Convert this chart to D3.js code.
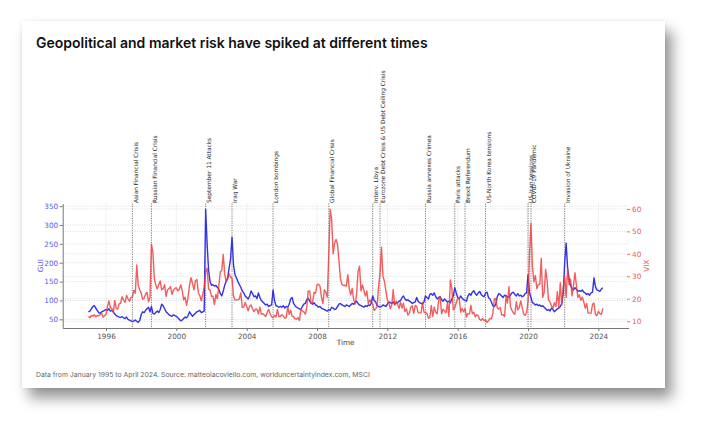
<!DOCTYPE html>
<html lang="en">
<head>
<meta charset="UTF-8">
<title>Geopolitical and market risk have spiked at different times</title>
<style>
  body { margin: 0; background: #fff; width: 708px; height: 432px; overflow: hidden; }
  #card {
    position: absolute; left: 22px; top: 21px; width: 643px; height: 367px;
    background: #fff;
    box-shadow: 7px 10px 13px rgba(0, 0, 0, 0.42), 0 0 4px rgba(0, 0, 0, 0.08);
  }
  svg { position: absolute; left: 0; top: 0; }
  .chart text { font-family: "DejaVu Sans", sans-serif; }
</style>
</head>
<body>
<div id="card"></div>
<svg id="chart" class="chart" width="708" height="432"></svg>

<script src="https://cdnjs.cloudflare.com/ajax/libs/d3/7.8.5/d3.min.js"></script>
<script>
// monthly series, January 1995 .. April 2024
const startYear = 1995;

const guiValues = [
  70, 72, 78, 84, 86, 80, 74, 68, 66, 70, 72, 74,        // 1995
  76, 74, 78, 72, 74, 70, 64, 60, 58, 56, 55, 57,        // 1996
  54, 52, 56, 50, 48, 46, 44, 46, 48, 45, 42, 47,        // 1997
  62, 70, 68, 74, 78, 82, 70, 84, 66, 64, 68, 72,        // 1998
  68, 76, 90, 86, 78, 70, 66, 62, 60, 58, 62, 60,        // 1999
  58, 54, 50, 46, 48, 52, 56, 54, 60, 70, 64, 58,        // 2000
  62, 66, 70, 72, 74, 68, 70, 72, 342, 250, 180, 150,    // 2001
  140, 142, 138, 140, 135, 130, 118, 112, 125, 140, 150, 160, // 2002
  185, 210, 268, 195, 168, 160, 150, 142, 135, 125, 120, 112, // 2003
  108, 104, 112, 125, 118, 110, 112, 105, 120, 108, 100, 96,  // 2004
  92, 88, 90, 84, 86, 88, 128, 100, 86, 84, 82, 84,      // 2005
  82, 86, 80, 84, 82, 90, 104, 108, 92, 86, 82, 80,      // 2006
  78, 76, 84, 90, 92, 102, 106, 98, 92, 90, 94, 88,      // 2007
  86, 82, 84, 80, 78, 76, 74, 72, 76, 74, 82, 80,        // 2008
  76, 78, 84, 90, 92, 88, 86, 84, 88, 86, 84, 88,        // 2009
  92, 90, 94, 98, 92, 88, 86, 84, 82, 86, 84, 88,        // 2010
  86, 92, 112, 100, 96, 86, 84, 82, 84, 88, 86, 84,      // 2011
  90, 96, 94, 92, 96, 90, 92, 94, 98, 100, 108, 112,     // 2012
  104, 100, 102, 98, 96, 92, 94, 96, 108, 98, 94, 92,    // 2013
  90, 96, 112, 108, 104, 116, 118, 114, 120, 110, 104, 108, // 2014
  110, 102, 98, 104, 100, 96, 98, 94, 104, 112, 134, 120,   // 2015
  108, 104, 112, 106, 102, 100, 98, 112, 118, 114, 122, 126, // 2016
  118, 114, 120, 124, 116, 112, 110, 120, 122, 108, 104, 96, // 2017
  86, 84, 90, 110, 118, 116, 112, 108, 114, 112, 110, 108,  // 2018
  114, 120, 122, 116, 112, 118, 112, 114, 110, 112, 118, 120, // 2019
  168, 120, 108, 94, 92, 88, 90, 86, 88, 84, 86, 82,     // 2020
  78, 74, 76, 72, 80, 76, 70, 74, 78, 80, 84, 92,        // 2021
  118, 200, 252, 186, 158, 140, 132, 128, 134, 130, 124, 126, // 2022
  124, 128, 122, 120, 116, 118, 114, 120, 122, 160, 136, 128, // 2023
  126, 124, 130, 134                                     // 2024
];

const vixValues = [
  12.1, 11.5, 12.6, 12.2, 12.9, 11.9, 12.6, 12.4, 12.9, 13.6, 11.8, 12.5, // 1995
  13.0, 16.6, 19.0, 16.0, 15.7, 13.9, 19.3, 15.6, 15.4, 17.8, 18.0, 20.9, // 1996
  19.5, 18.4, 21.5, 20.0, 18.9, 20.5, 20.9, 23.7, 22.5, 35.1, 25.9, 24.0, // 1997
  22.5, 19.8, 20.3, 22.0, 22.9, 18.7, 20.6, 44.3, 40.7, 28.9, 26.0, 24.4, // 1998
  26.2, 27.9, 24.0, 24.5, 26.3, 21.0, 24.0, 24.5, 25.4, 21.9, 23.8, 24.6, // 1999
  24.9, 23.5, 24.1, 26.2, 23.7, 19.5, 20.7, 17.0, 20.6, 26.1, 29.4, 26.9, // 2000
  24.0, 28.0, 28.6, 22.7, 21.4, 19.1, 22.0, 24.9, 31.9, 33.6, 24.4, 23.8, // 2001
  21.1, 21.1, 17.4, 21.9, 20.0, 25.8, 32.0, 32.6, 39.7, 31.1, 27.5, 28.6, // 2002
  31.2, 29.6, 29.2, 21.2, 19.5, 19.5, 19.5, 19.9, 22.7, 16.1, 16.3, 18.3, // 2003
  16.6, 14.6, 16.7, 17.2, 15.5, 14.3, 15.3, 15.3, 13.3, 16.3, 13.2, 13.3, // 2004
  12.8, 12.1, 14.0, 15.3, 13.3, 12.0, 11.6, 12.6, 11.9, 15.3, 12.1, 12.1, // 2005
  12.9, 12.3, 11.4, 11.6, 16.4, 13.1, 14.9, 12.3, 12.0, 11.1, 10.9, 11.6, // 2006
  10.4, 15.4, 14.6, 14.2, 13.1, 16.2, 23.5, 23.4, 18.0, 18.5, 22.9, 22.5, // 2007
  26.2, 26.5, 25.6, 20.8, 17.8, 24.0, 22.9, 20.7, 39.4, 59.9, 55.3, 40.0, // 2008
  44.8, 46.4, 44.1, 36.5, 28.9, 26.4, 25.9, 26.0, 25.6, 30.7, 24.5, 21.7, // 2009
  24.6, 19.5, 17.6, 22.1, 32.1, 34.5, 23.5, 26.1, 23.7, 21.2, 23.5, 17.8, // 2010
  19.5, 18.4, 17.7, 14.8, 15.5, 16.5, 25.3, 31.6, 43.0, 30.0, 27.8, 23.4, // 2011
  19.4, 18.4, 15.5, 17.2, 24.1, 17.1, 18.9, 17.5, 15.7, 18.6, 15.9, 18.0, // 2012
  14.3, 15.5, 12.7, 13.5, 16.3, 16.9, 13.5, 17.0, 16.6, 13.8, 13.7, 13.7, // 2013
  18.4, 14.0, 13.9, 13.4, 11.4, 11.6, 17.0, 12.1, 16.3, 14.0, 13.3, 19.2, // 2014
  21.0, 13.3, 15.3, 14.6, 13.8, 18.2, 12.1, 28.4, 24.5, 15.1, 16.1, 18.2, // 2015
  20.2, 20.6, 14.0, 15.7, 14.2, 15.6, 11.9, 13.4, 13.3, 17.1, 13.3, 14.0, // 2016
  12.0, 12.9, 12.4, 10.8, 10.4, 11.2, 10.3, 10.6, 9.5, 10.2, 11.3, 11.0,  // 2017
  13.5, 19.9, 20.0, 15.9, 15.4, 16.1, 12.8, 12.9, 12.1, 21.2, 18.1, 25.4, // 2018
  16.6, 14.8, 13.7, 13.1, 18.7, 15.1, 16.1, 19.0, 16.2, 13.2, 12.6, 13.8, // 2019
  18.8, 40.1, 53.5, 34.2, 27.5, 30.4, 24.5, 26.4, 26.4, 38.0, 20.6, 22.8, // 2020
  33.1, 28.0, 19.4, 18.6, 16.8, 15.8, 18.2, 16.5, 23.1, 16.3, 27.2, 17.2, // 2021
  24.8, 30.2, 20.6, 33.4, 26.2, 28.7, 21.3, 25.9, 31.6, 25.9, 20.6, 21.7, // 2022
  19.4, 20.7, 18.7, 15.8, 17.9, 13.6, 13.6, 13.6, 17.5, 18.1, 12.9, 12.5, // 2023
  14.4, 13.4, 13.0, 15.7                                                  // 2024
];

const eventLabels = [
  "Asian Financial Crisis", "Russian Financial Crisis", "September 11 Attacks",
  "Iraq War", "London bombings", "Global Financial Crisis", "Interv. Libya",
  "Eurozone Debt Crisis & US Debt Ceiling Crisis", "Russia annexes Crimea",
  "Paris attacks", "Brexit Referendum", "US-North Korea tensions",
  "US-Iran tensions", "COVID-19 Pandemic", "Invasion of Ukraine"
];
const eventDates = [
  "1997-07", "1998-08", "2001-09", "2003-03", "2005-07", "2008-09", "2011-03",
  "2011-08", "2014-03", "2015-11", "2016-06", "2017-08", "2020-01", "2020-03", "2022-02"
];

const yearTicks = [1996, 2000, 2004, 2008, 2012, 2016, 2020, 2024];
const guiTicks = [50, 100, 150, 200, 250, 300, 350];
const vixTicks = [10, 20, 30, 40, 50, 60];

const titleText = "Geopolitical and market risk have spiked at different times";
const footerText = "Data from January 1995 to April 2024. Source: matteoiacoviello.com, worlduncertaintyindex.com, MSCI";

// ---- layout
const plot = { left: 62.7, right: 628.5, top: 203.5, bottom: 328 };
const blue = "#3333e4", red = "#ef3b3b";

const months = guiValues.map((d, i) => startYear + i / 12);
const toYear = s => +s.slice(0, 4) + (+s.slice(5, 7) - 1) / 12;

// matplotlib-like 5% margins around the data
function padded(ext) {
  const p = (ext[1] - ext[0]) * 0.05;
  return [ext[0] - p, ext[1] + p];
}

const x = d3.scaleLinear().domain(padded(d3.extent(months))).range([plot.left, plot.right]);
const yGui = d3.scaleLinear().domain(padded(d3.extent(guiValues))).range([plot.bottom, plot.top]);
const yVix = d3.scaleLinear().domain(padded(d3.extent(vixValues))).range([plot.bottom, plot.top]);

const svg = d3.select("#chart");

// title + footer
const title = svg.append("text")
  .attr("x", 36).attr("y", 47.5)
  .style("font-family", "Inter, sans-serif")
  .style("font-weight", 600)
  .style("font-size", "16px")
  .attr("fill", "#111")
  .text(titleText);
// squeeze to the width of the reference title
const tw = title.node().getComputedTextLength();
title.style("font-size", (16 * 392 / tw).toFixed(2) + "px");

const footer = svg.append("text")
  .attr("x", 36).attr("y", 377)
  .style("font-family", "Inter, sans-serif")
  .style("font-size", "7.5px")
  .attr("fill", "#666")
  .text(footerText);
const fw = footer.node().getComputedTextLength();
footer.style("font-size", (7.5 * 334 / fw).toFixed(2) + "px");

// grid
const grid = svg.append("g").attr("stroke", "#c8c8c8").attr("stroke-width", 0.6)
  .attr("stroke-dasharray", "1,1.4");
grid.selectAll(".gx").data(yearTicks).join("line")
  .attr("x1", d => x(d)).attr("x2", d => x(d))
  .attr("y1", plot.top).attr("y2", plot.bottom);
grid.selectAll(".gg").data(guiTicks).join("line")
  .attr("x1", plot.left).attr("x2", plot.right)
  .attr("y1", d => yGui(d)).attr("y2", d => yGui(d));
grid.selectAll(".gv").data(vixTicks).join("line")
  .attr("x1", plot.left).attr("x2", plot.right)
  .attr("y1", d => yVix(d)).attr("y2", d => yVix(d));

// event markers
const ev = svg.append("g");
ev.selectAll("line").data(eventDates).join("line")
  .attr("x1", d => x(toYear(d))).attr("x2", d => x(toYear(d)))
  .attr("y1", plot.top).attr("y2", plot.bottom)
  .attr("stroke", "#444").attr("stroke-width", 0.7)
  .attr("stroke-dasharray", "1.2,1.2");
ev.selectAll("text").data(eventLabels).join("text")
  .attr("transform", (d, i) => `translate(${x(toYear(eventDates[i])) + 5.2},${plot.top - 0.5}) rotate(-90)`)
  .attr("font-size", 5.85)
  .attr("fill", "#222")
  .text(d => d);

// lines
const guiLine = d3.line().x((d, i) => x(months[i])).y(d => yGui(d));
const vixLine = d3.line().x((d, i) => x(months[i])).y(d => yVix(d));

svg.append("path").datum(guiValues)
  .attr("d", guiLine).attr("fill", "none")
  .attr("stroke", blue).attr("stroke-width", 1.4).attr("stroke-linejoin", "round");
svg.append("path").datum(vixValues)
  .attr("d", vixLine).attr("fill", "none")
  .attr("stroke", red).attr("stroke-opacity", 0.82)
  .attr("stroke-width", 1.4).attr("stroke-linejoin", "round");

// axes
const axX = svg.append("g")
  .attr("transform", `translate(0,${plot.bottom})`)
  .call(d3.axisBottom(x).tickValues(yearTicks).tickFormat(d3.format("d")).tickSize(3).tickSizeOuter(0));
axX.select(".domain").attr("stroke", "#777");
axX.selectAll(".tick line").attr("stroke", "#777");
axX.selectAll(".tick text").attr("font-size", 7.3).attr("fill", "#555")
  .attr("font-family", "DejaVu Sans, sans-serif").attr("dy", "0.65em");

const axL = svg.append("g")
  .attr("transform", `translate(${plot.left},0)`)
  .call(d3.axisLeft(yGui).tickValues(guiTicks).tickSize(3).tickSizeOuter(0));
axL.select(".domain").attr("stroke", "#777");
axL.selectAll(".tick line").attr("stroke", "#777");
axL.selectAll(".tick text").attr("font-size", 7.3).attr("fill", "#5a5af0")
  .attr("font-family", "DejaVu Sans, sans-serif").attr("x", -4.5);

const axR = svg.append("g")
  .attr("transform", `translate(${plot.right - 1.5},0)`)
  .call(d3.axisRight(yVix).tickValues(vixTicks).tickSize(3).tickSizeOuter(0));
axR.select(".domain").remove();
axR.selectAll(".tick line").attr("stroke", "#f07070");
axR.selectAll(".tick text").attr("font-size", 7.3).attr("fill", "#f05a5a")
  .attr("font-family", "DejaVu Sans, sans-serif").attr("x", 5);

// axis titles
svg.append("text")
  .attr("x", (plot.left + plot.right) / 2).attr("y", 345)
  .attr("text-anchor", "middle").attr("font-size", 7.3).attr("fill", "#444")
  .text("Time");
svg.append("text")
  .attr("transform", `translate(43,${(plot.top + plot.bottom) / 2}) rotate(-90)`)
  .attr("text-anchor", "middle").attr("font-size", 7.3).attr("fill", "#5a5af0")
  .text("GUI");
svg.append("text")
  .attr("transform", `translate(649,${(plot.top + plot.bottom) / 2}) rotate(-90)`)
  .attr("text-anchor", "middle").attr("font-size", 7.3).attr("fill", "#f05a5a")
  .text("VIX");
</script>
</body>
</html>
